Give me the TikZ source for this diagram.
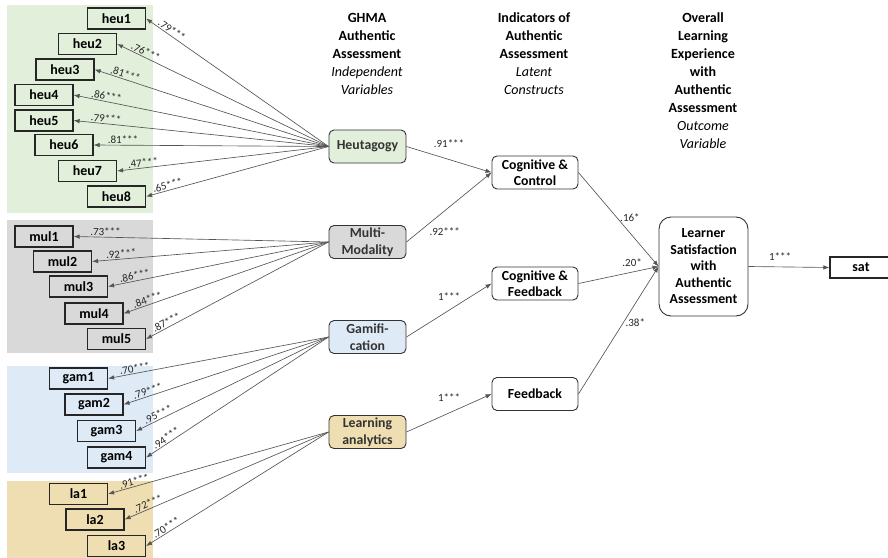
\documentclass[tikz,border=0pt]{standalone}
\usepackage{fontspec}
\setmainfont{Carlito}
\usetikzlibrary{arrows.meta}
\definecolor{heuc}{RGB}{226,239,218}
\definecolor{mulc}{RGB}{217,217,217}
\definecolor{gamc}{RGB}{222,235,247}
\definecolor{lac}{RGB}{239,222,178}
\definecolor{linec}{RGB}{85,85,85}
\begin{document}
\begin{tikzpicture}[x=1pt,y=-1pt,>={Latex[length=6pt,width=4.5pt]}]
	\tikzset{item/.style={draw=black!85,line width=1.2pt,minimum width=58pt,minimum height=21pt,inner sep=0pt,font=\bfseries\fontsize{14}{14}\selectfont},
		latent/.style={draw=black!80,line width=.9pt,rounded corners=5pt,minimum width=77pt,minimum height=33pt,inner sep=0pt,align=center,text=black!80,font=\bfseries\fontsize{13.8}{16.5}\selectfont},
		construct/.style={latent,fill=white,text=black,minimum width=86pt},
		head/.style={align=center,font=\bfseries\fontsize{14}{18}\selectfont},
		link/.style={->,draw=linec,line width=.65pt},
		coef/.style={font=\fontsize{11}{11}\selectfont,text=black!85,inner sep=1pt}
	}
	\useasboundingbox (0,0) rectangle (888,557);
	\fill[heuc] (7,5) rectangle (153,213);
	\fill[mulc] (7,220) rectangle (153,353);
	\fill[gamc] (7,366) rectangle (153,473);
	\fill[lac] (7,481) rectangle (153,560);
	\node[head] at (367,53.5) {GHMA\\Authentic\\Assessment\\{\mdseries\itshape Independent}\\{\mdseries\itshape Variables}};
	\node[head] at (534,53.5) {Indicators of\\Authentic\\Assessment\\{\mdseries\itshape Latent}\\{\mdseries\itshape Constructs}};
	\node[head] at (703,80.5) {Overall\\Learning\\Experience\\with\\Authentic\\Assessment\\{\mdseries\itshape Outcome}\\{\mdseries\itshape Variable}};
	\node[latent,fill=heuc] (heu) at (367.5,146.5) {Heutagogy};
	\node[latent,fill=mulc] (mul) at (367.5,242) {Multi-\\Modality};
	\node[latent,fill=gamc] (gam) at (367.5,337) {Gamifi-\\cation};
	\node[latent,fill=lac] (la) at (367.5,432) {Learning\\analytics};
	\foreach \n/\x/\y/\c in {heu1/116.5/18.5/.79,heu2/87.5/44/.76,heu3/65/69.5/.81,heu4/44/95/.86,heu5/44/120.5/.79,heu6/64/145/.81,heu7/87.5/171/.47,heu8/116.5/196.5/.65}{
		\node[item,fill=heuc] (\n) at (\x,\y) {\n};
		\draw[link] (heu.west) -- (\n.east) node[coef,pos=.875,sloped,above]{\c***};}
	\foreach \n/\x/\y/\c in {mul1/44/236.5/.73,mul2/62.5/261.5/.92,mul3/78.5/286.5/.86,mul4/94/313.5/.84,mul5/116.5/339/.87}{
		\node[item,fill=mulc] (\n) at (\x,\y) {\n};
		\draw[link] (mul.west) -- (\n.east) node[coef,pos=.875,sloped,above]{\c***};}
	\foreach \n/\x/\y/\c in {gam1/78.5/378.5/.70,gam2/94/404.5/.79,gam3/106.5/431/.95,gam4/116.5/457.5/.94}{
		\node[item,fill=gamc] (\n) at (\x,\y) {\n};
		\draw[link] (gam.west) -- (\n.east) node[coef,pos=.875,sloped,above]{\c***};}
	\foreach \n/\x/\y/\c in {la1/78.5/494/.91,la2/95/519.5/.72,la3/116.5/546/.70}{
		\node[item,fill=lac] (\n) at (\x,\y) {\n};
		\draw[link] (la.west) -- (\n.east) node[coef,pos=.875,sloped,above]{\c***};}
	\node[construct] (cc) at (535,172.5) {Cognitive \&\\Control};
	\node[construct] (cf) at (535,283.5) {Cognitive \&\\Feedback};
	\node[construct] (fb) at (535,394) {Feedback};
	\node[construct,rounded corners=12pt,minimum width=89pt,minimum height=99pt] (ls) at (703.5,266.5) {Learner\\Satisfaction\\with\\Authentic\\Assessment};
	\node[item,fill=white,minimum width=62pt] (sat) at (861,267.5) {sat};
	\draw[link] (heu.east) -- (cc.west) node[coef,midway,above=11pt]{.91***};
	\draw[link] (mul.east) -- (cc.west) node[coef,pos=.45,below=16pt]{.92***};
	\draw[link] (gam.east) -- (cf.west) node[coef,midway,above=8pt]{1***};
	\draw[link] (la.east) -- (fb.west) node[coef,midway,above=10pt]{1***};
	\draw[link] (cc.east) -- (ls.west) node[coef,pos=.48,right=2pt]{.16*};
	\draw[link] (cf.east) -- (ls.west) node[coef,pos=.67,above=4pt]{.20*};
	\draw[link] (fb.east) -- (ls.west) node[coef,pos=.56,right=1pt]{.38*};
	\draw[link] (ls.east) -- (sat.west) node[coef,pos=.39,above=5pt]{1***};
\end{tikzpicture}
\end{document}
